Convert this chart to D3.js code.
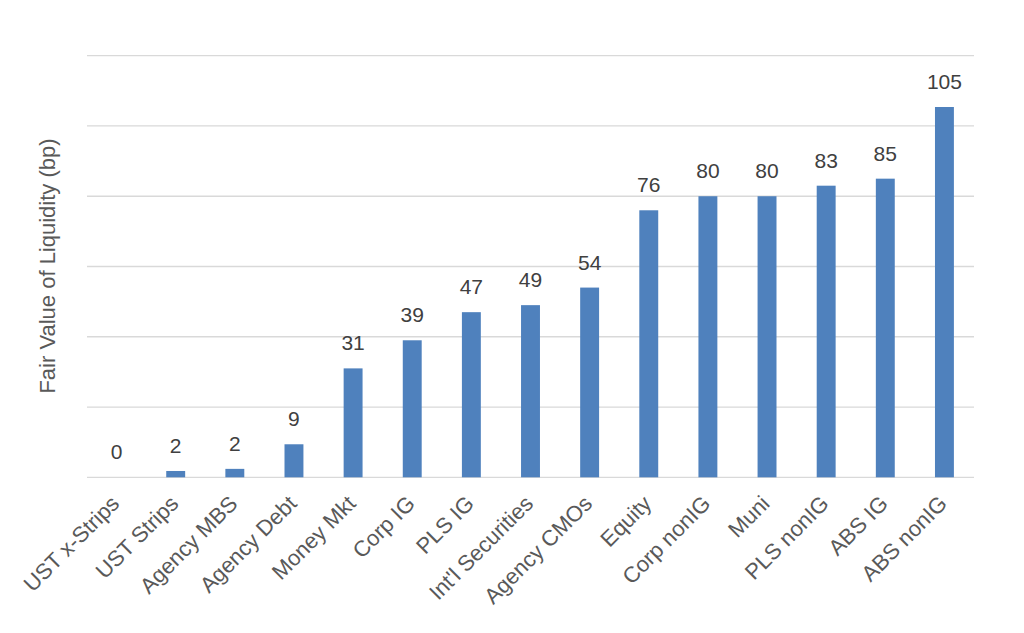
<!DOCTYPE html>
<html><head><meta charset="utf-8">
<script src="https://cdn.jsdelivr.net/npm/d3@7"></script>
<style>body{margin:0;background:#fff}</style></head>
<body><svg id="c" width="1024" height="633"></svg>
<script>
const categories = ["UST x-Strips","UST Strips","Agency MBS","Agency Debt","Money Mkt","Corp IG","PLS IG","Int'l Securities","Agency CMOs","Equity","Corp nonIG","Muni","PLS nonIG","ABS IG","ABS nonIG"];
const values = [0, 1.8, 2.4, 9.4, 31, 39, 47, 49, 54, 76, 80, 80, 83, 85, 105.4];
const yTicks = [0, 20, 40, 60, 80, 100, 120];
const yTitle = "Fair Value of Liquidity (bp)";

const svg = d3.select("#c");
const font = "'Liberation Sans', Arial, sans-serif";
const x = d3.scaleBand().domain(categories).range([87, 974]).paddingInner(0.68).paddingOuter(0.34);
const y = d3.scaleLinear().domain([0, 120]).range([477.3, 55.7]);

svg.append("g").selectAll("line").data(yTicks).join("line")
  .attr("x1", 87).attr("x2", 974)
  .attr("y1", d => y(d)).attr("y2", d => y(d))
  .attr("stroke", "#d9d9d9").attr("stroke-width", 1.3);

svg.append("g").selectAll("rect").data(values).join("rect")
  .attr("x", (d, i) => x(categories[i]))
  .attr("width", x.bandwidth())
  .attr("y", d => y(d))
  .attr("height", d => y(0) - y(d))
  .attr("fill", "#4f81bd");

svg.append("g").selectAll("text").data(values).join("text")
  .attr("x", (d, i) => x(categories[i]) + x.bandwidth() / 2)
  .attr("y", d => y(d) - 18)
  .attr("text-anchor", "middle")
  .attr("font-family", font).attr("font-size", 21)
  .attr("fill", "#404040")
  .text(d => Math.round(d));

svg.append("g").selectAll("text").data(categories).join("text")
  .attr("transform", d => `translate(${x(d) + x.bandwidth() / 2 + 4},${505}) rotate(-45)`)
  .attr("text-anchor", "end")
  .attr("font-family", font).attr("font-size", 22)
  .attr("fill", "#595959")
  .text(d => d);

svg.append("text")
  .attr("transform", "translate(55,266) rotate(-90)")
  .attr("text-anchor", "middle")
  .attr("font-family", font).attr("font-size", 22)
  .attr("fill", "#595959")
  .text(yTitle);
</script></body></html>
